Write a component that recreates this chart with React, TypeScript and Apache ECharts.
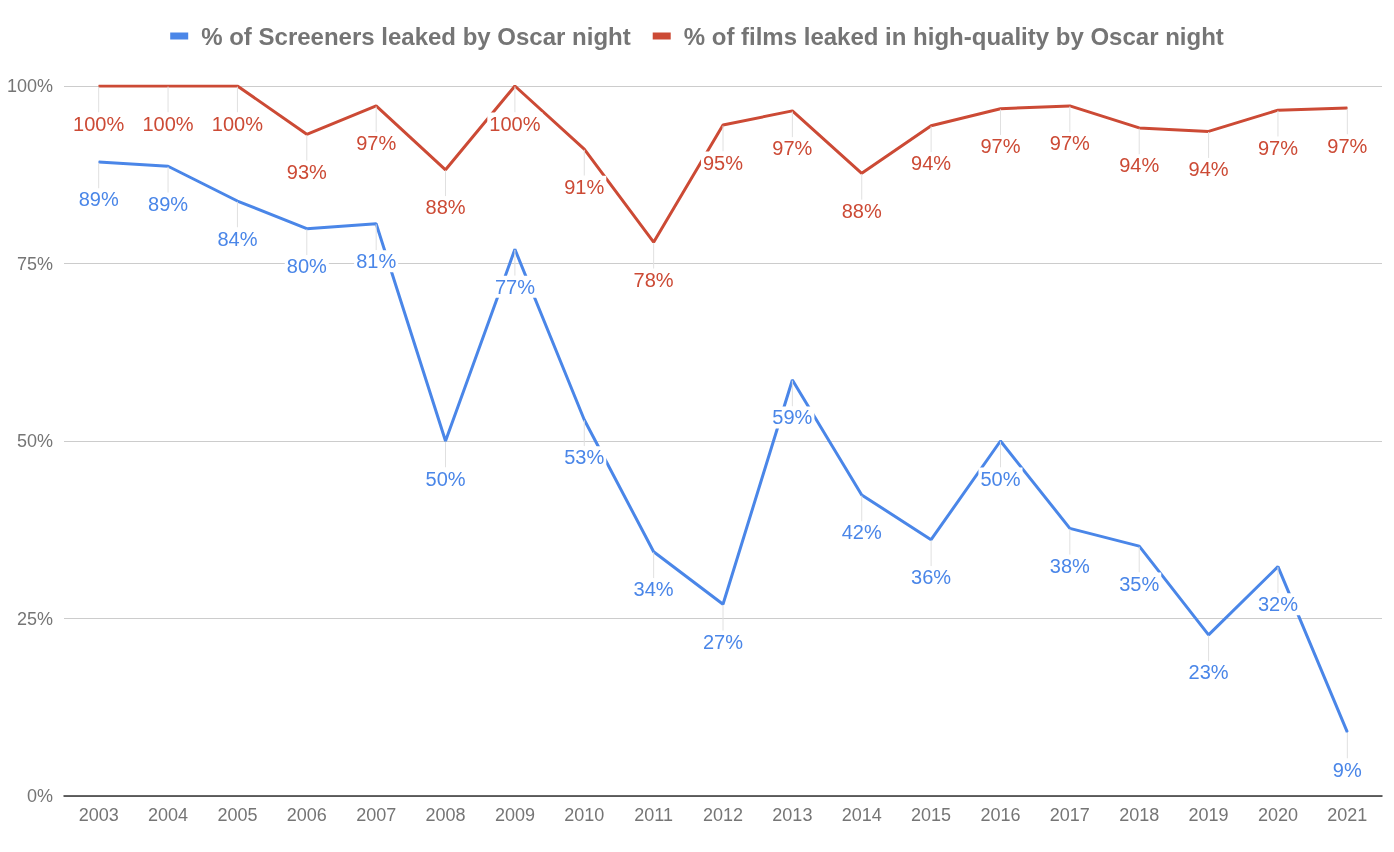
import React, { useEffect, useRef } from "react";
import * as echarts from "echarts";

const years = ["2003","2004","2005","2006","2007","2008","2009","2010","2011","2012","2013","2014","2015","2016","2017","2018","2019","2020","2021"];
const screenersLeaked = [89.3, 88.7, 83.8, 79.9, 80.6, 50.0, 77.0, 53.0, 34.4, 27.0, 58.6, 42.4, 36.1, 50.0, 37.7, 35.2, 22.7, 32.3, 9.0];
const hqLeaked = [100, 100, 100, 93.2, 97.2, 88.2, 100, 91.1, 78.0, 94.5, 96.5, 87.7, 94.4, 96.8, 97.2, 94.1, 93.6, 96.6, 96.9];
const seriesNames = ["% of Screeners leaked by Oscar night", "% of films leaked in high-quality by Oscar night"];
const BLUE = "#4a86e8";
const RED = "#cc4a35";

export default function App() {
  const ref = useRef<HTMLDivElement>(null);
  useEffect(() => {
    if (!ref.current) return;
    const chart = echarts.init(ref.current, null, { renderer: "svg" });
    const mk = (name: string, data: number[], color: string) => ({
      name,
      type: "line",
      data,
      symbol: "circle",
      symbolSize: 1,
      itemStyle: { color },
      lineStyle: { color, width: 3 },
      label: {
        show: true,
        position: "bottom",
        distance: 0,
        color,
        fontSize: 20,
        fontFamily: "Arial, Liberation Sans, sans-serif",
        backgroundColor: "#ffffff",
        padding: [1, 2],
        formatter: (p: any) => Math.round(p.value) + "%",
      },
      labelLayout: { dy: 26 },
      labelLine: { show: true, lineStyle: { color: "#e0e0e0", width: 1 } },
    });
    chart.setOption({
      animation: false,
      textStyle: { fontFamily: "Arial, Liberation Sans, sans-serif" },
      legend: {
        top: 19,
        left: "center",
        icon: "rect",
        itemWidth: 18,
        itemHeight: 7,
        itemGap: 22,
        textStyle: { fontSize: 24, fontWeight: "bold", color: "#757575", padding: [0, 0, 0, 8] },
        data: seriesNames,
      },
      grid: { left: 64, right: 12, top: 86, bottom: 56, containLabel: false },
      xAxis: {
        type: "category",
        data: years,
        boundaryGap: true,
        axisLine: { lineStyle: { color: "#333333", width: 1.5 } },
        axisTick: { show: false },
        axisLabel: { color: "#757575", fontSize: 18, margin: 10 },
      },
      yAxis: {
        type: "value",
        min: 0,
        max: 100,
        interval: 25,
        axisLine: { show: false },
        axisTick: { show: false },
        axisLabel: { color: "#757575", fontSize: 18, margin: 11, formatter: "{value}%" },
        splitLine: { lineStyle: { color: "#cccccc", width: 1 } },
      },
      series: [mk(seriesNames[0], screenersLeaked, BLUE), mk(seriesNames[1], hqLeaked, RED)],
    });
    return () => chart.dispose();
  }, []);
  return <div ref={ref} style={{ position: "fixed", left: 0, top: 0, width: 1394, height: 852 }} />;
}
